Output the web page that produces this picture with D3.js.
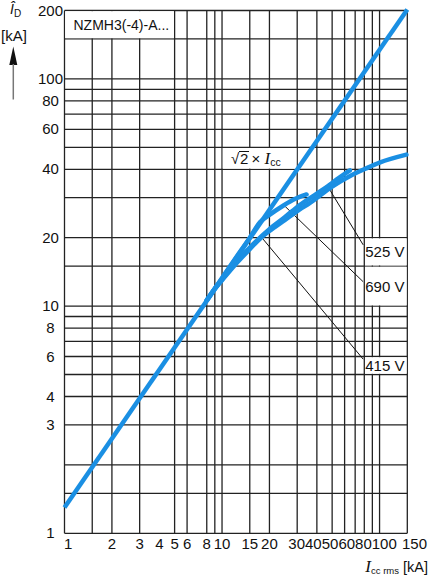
<!DOCTYPE html>
<html>
<head>
<meta charset="utf-8">
<script src="https://cdn.jsdelivr.net/npm/d3@7/dist/d3.min.js"></script>
<style>
  html, body { margin: 0; padding: 0; background: #fff; }
  svg { display: block; }
  text { font-family: "Liberation Sans", Arial, sans-serif; fill: #111; }
</style>
</head>
<body>
<svg id="chart" width="432" height="580"></svg>
<script>
// ---------- data ----------
const xGrid = [1, 1.5, 2, 3, 5, 6, 8, 9, 10, 15, 20, 30, 40, 50, 60, 70, 80, 90, 100, 150];
const yGrid = [1, 1.5, 2, 3, 4, 5, 6, 7, 8, 9, 10, 15, 20, 30, 40, 50, 60, 70, 80, 90, 100, 150, 200];
const xTickLabels = [1, 2, 3, 4, 5, 6, 8, 10, 15, 20, 30, 40, 50, 60, 80, 100, 150];
const yTickLabels = [1, 3, 4, 6, 8, 10, 20, 40, 60, 80, 100, 200];

// peak current line (sqrt2 x Icc)
const peakLine = [[1, 1.3], [150, 202]];
// let-through curves [Icc rms, Î_D]
const curve415 = [[8, 10.6], [9, 11.9], [10, 13.0], [12, 15.1], [15, 17.8], [17.8, 20.1], [20, 21.4], [25, 23.9], [31, 26.6], [36, 28.4], [50, 33.6], [65, 37.4], [83, 40.5], [100, 42.8], [148, 46.4]];
const curve525 = [[8, 10.6], [9, 11.95], [10, 13.1], [12, 15.3], [15, 18.1], [20, 21.8], [25, 24.6], [31, 27.8], [40, 31.3], [46.8, 33.7], [55, 36.6], [64.8, 39.6]];
const curve690 = [[8, 10.6], [10, 13.3], [12, 16.0], [15, 20.0], [17.4, 23.4], [20, 25.2], [24.7, 27.8], [29, 29.6], [34.4, 31.0]];

const seriesNames = ["415 V", "525 V", "690 V"];
// leader lines: [curve point, label point] in data units
const leader415 = [[17.8, 20.1], [78.7, 5.84]];
const leader525 = [[46.8, 33.7], [78.7, 18.6]];
const leader690 = [[24.7, 27.8], [78.7, 12.8]];
// label cells [x0, x1, y0, y1] in data units
const cell415 = [80, 150, 5, 6];
const cell525 = [80, 150, 15, 20];
const cell690 = [80, 150, 10, 15];
const cellTitle = [1, 5, 150, 200];
const cellPeak = [10, 30, 40, 50];
const titleText = "NZMH3(-4)-A...";

// ---------- chart ----------
const svg = d3.select("#chart");
const x = d3.scaleLog().domain([1, 150]).range([64.5, 407.3]);
const y = d3.scaleLog().domain([1, 200]).range([533.3, 10.5]);
const blue = "#1a8fe3";
const gridColor = "#222";
const FS = 14;

const g = svg.append("g");

// grid
g.selectAll("line.vx").data(xGrid).enter().append("line")
  .attr("x1", d => x(d)).attr("x2", d => x(d))
  .attr("y1", y(1)).attr("y2", y(200))
  .attr("stroke", gridColor).attr("stroke-width", 1.3);
g.selectAll("line.hy").data(yGrid).enter().append("line")
  .attr("y1", d => y(d)).attr("y2", d => y(d))
  .attr("x1", x(1)).attr("x2", x(150))
  .attr("stroke", gridColor).attr("stroke-width", 1.3);

// white label cells
function cell(c) {
  g.append("rect")
    .attr("x", x(c[0]) + 0.7).attr("width", x(c[1]) - x(c[0]) - 1.4)
    .attr("y", y(c[3]) + 0.7).attr("height", y(c[2]) - y(c[3]) - 1.4)
    .attr("fill", "#fff");
}
[cellTitle, cellPeak, cell415, cell525, cell690].forEach(cell);

// leader lines
[leader415, leader525, leader690].forEach(l => {
  g.append("line")
    .attr("x1", x(l[0][0])).attr("y1", y(l[0][1]))
    .attr("x2", x(l[1][0])).attr("y2", y(l[1][1]))
    .attr("stroke", "#111").attr("stroke-width", 1);
});

// curves
const line = d3.line().x(d => x(d[0])).y(d => y(d[1])).curve(d3.curveMonotoneX);
[curve415, curve525, curve690].forEach(c => {
  g.append("path").attr("d", line(c)).attr("fill", "none")
    .attr("stroke", blue).attr("stroke-width", 4.5).attr("stroke-linecap", "round");
});
g.append("path").attr("d", d3.line().x(d => x(d[0])).y(d => y(d[1]))(peakLine))
  .attr("fill", "none").attr("stroke", blue).attr("stroke-width", 4.5);

// x tick labels: centred on ticks, crowded ones packed side by side
const xl = g.selectAll("text.xl").data(xTickLabels).enter().append("text")
  .attr("class", "xl")
  .attr("y", 549).attr("text-anchor", "start").attr("font-size", 15)
  .text(d => d);
{
  const nodes = xl.nodes();
  const widths = nodes.map(n => n.getComputedTextLength());
  const lefts = xTickLabels.map((d, i) => x(d) - widths[i] / 2);
  const last = lefts.length - 1;
  lefts[0] = x(1) - 0.5;
  lefts[last] = 427 - widths[last];
  for (let iter = 0; iter < 200; iter++) {
    for (let i = 1; i < last; i++) {
      const minL = lefts[i - 1] + widths[i - 1];
      if (lefts[i] < minL) {
        const ov = minL - lefts[i];
        if (i - 1 === 0) { lefts[i] += ov; }
        else { lefts[i] += ov / 2; lefts[i - 1] -= ov / 2; }
      }
    }
    const maxL = lefts[last] - widths[last - 1] - 4;
    if (lefts[last - 1] > maxL) lefts[last - 1] = maxL;
  }
  nodes.forEach((n, i) => d3.select(n).attr("x", lefts[i]));
}

g.selectAll("text.yl").data(yTickLabels).enter().append("text")
  .attr("x", 50.5).attr("y", d => y(d) + 5)
  .attr("text-anchor", "middle").attr("font-size", 15)
  .text(d => d);

// title
g.append("text").attr("x", x(1) + 9).attr("y", 29.5).attr("font-size", FS).text(titleText);

// peak label
const px0 = x(10) + 9, pyb = 164;
g.append("text").attr("x", px0).attr("y", pyb).attr("font-size", 15).text("\u221A");
g.append("text").attr("x", px0 + 9).attr("y", pyb).attr("font-size", 15).text("2");
g.append("line").attr("x1", px0 + 8).attr("x2", px0 + 18).attr("y1", pyb - 12.5).attr("y2", pyb - 12.5)
  .attr("stroke", "#111").attr("stroke-width", 1);
const pk = g.append("text").attr("x", px0 + 20.5).attr("y", pyb).attr("font-size", 15);
pk.append("tspan").text("\u00D7 ");
pk.append("tspan").attr("font-family", "Liberation Serif, serif").attr("font-style", "italic").attr("font-size", 17).text("I");
pk.append("tspan").attr("font-size", 10.5).attr("dy", 2).text("cc");

// series labels
[[cell525, seriesNames[1]], [cell690, seriesNames[2]], [cell415, seriesNames[0]]].forEach(([c, t]) => {
  g.append("text").attr("x", x(c[0]) + 1).attr("y", (y(c[2]) + y(c[3])) / 2 + 5.5)
    .attr("font-size", 15).text(t);
});

// y axis title
const yt = g.append("text").attr("x", 10).attr("y", 14).attr("font-size", 14);
yt.append("tspan").attr("font-style", "italic").text("\u00CE");
yt.append("tspan").attr("font-size", 10).attr("dy", 3).text("D");
g.append("text").attr("x", 14).attr("y", 41).attr("text-anchor", "middle").attr("font-size", 15).text("[kA]");
g.append("path").attr("d", "M13.3,46.5 L9.3,65 L17.3,65 Z").attr("fill", "#111");
g.append("line").attr("x1", 13.3).attr("x2", 13.3).attr("y1", 64).attr("y2", 99.5)
  .attr("stroke", "#777").attr("stroke-width", 1.5);

// x axis title
const xt = g.append("text").attr("x", 428).attr("y", 572).attr("text-anchor", "end").attr("font-size", 14.5);
xt.append("tspan").attr("font-family", "Liberation Serif, serif").attr("font-style", "italic").attr("font-size", 17).text("I");
xt.append("tspan").attr("font-size", 9.5).attr("dy", 2).text("cc rms");
xt.append("tspan").attr("dy", -2).text(" [kA]");
</script>
</body>
</html>
